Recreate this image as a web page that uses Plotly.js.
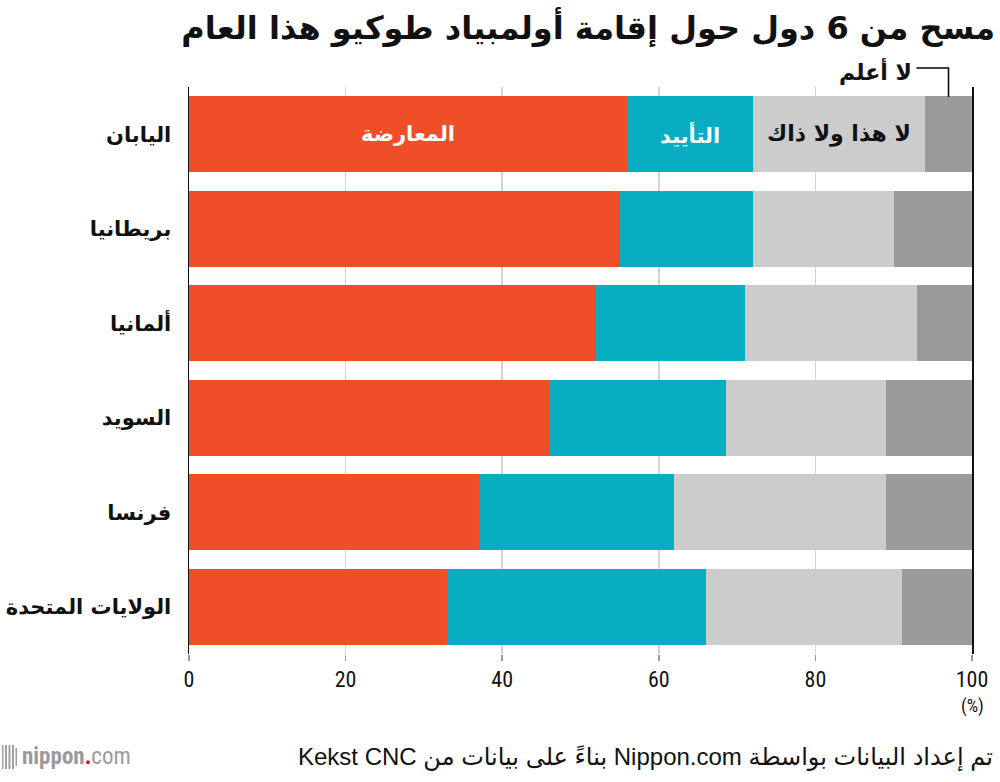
<!DOCTYPE html>
<html><head><meta charset="utf-8">
<script src="https://cdn.plot.ly/plotly-3.0.1.min.js"></script>
<style>html,body{margin:0;padding:0;background:#fff}#chart{width:1000px;height:782px}</style>
</head><body><div id="chart"></div>
<script>
const countries = ["اليابان","بريطانيا","ألمانيا","السويد","فرنسا","الولايات المتحدة"];
const oppose   = [56, 55, 52, 46, 37, 33];
const support  = [16, 17, 19, 22.6, 25, 33];
const neither  = [22, 18, 22, 20.4, 27, 25];
const dontKnow = [6, 10, 7, 11, 11, 9];
const seriesNames = ["المعارضة","التأييد","لا هذا ولا ذاك","لا أعلم"];
const xTicks = [0, 20, 40, 60, 80, 100];

const AR = "'DejaVu Sans', 'Noto Sans', sans-serif";
const NUM = "'Liberation Sans Narrow', 'Roboto Condensed', 'Liberation Sans', Arial, sans-serif";
const colors = ["#f04e29", "#08adc1", "#cccccc", "#9b9b9b"];
const data = [oppose, support, neither, dontKnow].map((v, i) => ({
  type: "bar", orientation: "h", name: seriesNames[i],
  y: countries, x: v, marker: {color: colors[i], line: {width: 0}},
  hoverinfo: "x+y"
}));

const c1 = oppose[0] / 2;
const c2 = oppose[0] + support[0] / 2;
const c3 = oppose[0] + support[0] + neither[0] / 2;
const dkCenter = 100 - dontKnow[0] / 2;

const pxToPaperY = py => (654 - py) / 567;
const pxToPaperX = px => (px - 189) / 783;

const shapes = [
  {type: "path", xref: "x", yref: "paper",
   path: `M ${dkCenter - 4.1} ${pxToPaperY(68)} L ${dkCenter} ${pxToPaperY(68)} L ${dkCenter} ${pxToPaperY(97)}`,
   line: {color: "#000", width: 1.5}}
];
[[2,1.5,0],[5,2,0],[8.5,2,0],[12,2,0],[15.5,1.5,3]].forEach(([px, w, d]) => {
  shapes.push({type: "rect", xref: "paper", yref: "paper",
    x0: pxToPaperX(px), x1: pxToPaperX(px + w),
    y0: pxToPaperY(769 - d), y1: pxToPaperY(745 + d),
    line: {width: 0}, fillcolor: "#a0a0a0"});
});

const annotations = [
  {x: c1, y: countries[0], xref: "x", yref: "y", text: "<b>" + seriesNames[0] + "</b>", showarrow: false,
   font: {family: AR, size: 21, color: "#fff"}},
  {x: c2, y: countries[0], xref: "x", yref: "y", text: "<b>" + seriesNames[1] + "</b>", showarrow: false,
   font: {family: AR, size: 21, color: "#fff"}},
  {x: c3, y: countries[0], xref: "x", yref: "y", text: "<b>" + seriesNames[2] + "</b>", showarrow: false,
   font: {family: AR, size: 22, color: "#111"}},
  {x: dkCenter - 4.4, y: pxToPaperY(71), xref: "x", yref: "paper", xanchor: "right", yanchor: "middle",
   text: "<b>" + seriesNames[3] + "</b>", showarrow: false, font: {family: AR, size: 22, color: "#111"}},
  {x: 1.0, y: pxToPaperY(706), xref: "paper", yref: "paper", xanchor: "center", yanchor: "middle",
   text: "(%)", showarrow: false, font: {family: NUM, size: 18, color: "#111"}},
  {x: 1.0 + 23 / 783, y: pxToPaperY(757), xref: "paper", yref: "paper", xanchor: "right", yanchor: "middle",
   text: "Kekst CNC بناءً على بيانات من Nippon.com تم إعداد البيانات بواسطة", showarrow: false,
   font: {family: "'Liberation Sans', " + AR, size: 24, color: "#111"}},
  {x: pxToPaperX(20), y: pxToPaperY(756), xref: "paper", yref: "paper", xanchor: "left", yanchor: "middle",
   text: "<b>nippon</b><span style='color:#e60012'><b>.</b></span>com", showarrow: false,
   font: {family: "'Liberation Sans Narrow', 'Roboto Condensed', 'Liberation Sans', Arial, sans-serif", size: 23, color: "#9a9a9a"}}
];

const layout = {
  width: 1000, height: 782,
  paper_bgcolor: "#fff", plot_bgcolor: "#fff",
  margin: {l: 189, r: 28, t: 87, b: 128},
  barmode: "stack", bargap: 0.2, showlegend: false,
  title: {text: "<b>مسح من 6 دول حول إقامة أولمبياد طوكيو هذا العام</b>",
    x: 0.995, xanchor: "right", xref: "container", y: 1 - 28 / 782, yanchor: "middle", yref: "container",
    font: {family: AR, size: 32, color: "#111"}},
  xaxis: {range: [0, 100], tickvals: xTicks, ticktext: xTicks.map(String),
    showgrid: true, gridcolor: "#d4d4d4", gridwidth: 1.5, zeroline: false,
    ticks: "outside", ticklen: 6, tickcolor: "#999", tickwidth: 1.5,
    tickfont: {family: NUM, size: 22, color: "#111"}, showline: false, fixedrange: true},
  yaxis: {autorange: "reversed", showgrid: false, zeroline: false,
    showline: true, linecolor: "#111", linewidth: 1.5, mirror: true, ticks: "",
    ticklabelstandoff: 12,
    tickfont: {family: AR, size: 21, color: "#111", weight: "bold"}, fixedrange: true},
  shapes, annotations
};
Plotly.newPlot("chart", data, layout, {displayModeBar: false, staticPlot: true});
</script></body></html>
